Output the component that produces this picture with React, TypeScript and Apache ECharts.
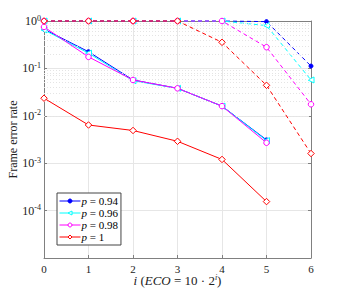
import React, { useEffect, useRef } from "react";
import * as echarts from "echarts";

const xSolid = [0, 1, 2, 3, 4, 5];
const xDashed = [0, 1, 2, 3, 4, 5, 6];

const legendNames = ["p = 0.94", "p = 0.96", "p = 0.98", "p = 1"];
const colors = ["#0000ff", "#00ffff", "#ff00ff", "#ff0000"];

const solid094 = [0.67, 0.225, 0.057, 0.038, 0.016, 0.0031];
const solid096 = [0.65, 0.21, 0.055, 0.038, 0.016, 0.003];
const solid098 = [0.75, 0.175, 0.057, 0.038, 0.016, 0.0027];
const solid1 = [0.0235, 0.0064, 0.0049, 0.0029, 0.0012, 0.000155];

const dashed094 = [1, 1, 1, 1, 1, 0.97, 0.112];
const dashed096 = [1, 1, 1, 1, 1, 0.8, 0.057];
const dashed098 = [1, 1, 1, 1, 1, 0.28, 0.0175];
const dashed1 = [1, 1, 1, 1, 0.355, 0.044, 0.0016];

const yDecades = [-5, -4, -3, -2, -1, 0];
const minorMultipliers = [2, 3, 4, 5, 6, 7, 8, 9];

const FONT = "Liberation Serif";

export default function App() {
  const ref = useRef<HTMLDivElement>(null);
  useEffect(() => {
    if (!ref.current) return;
    const chart = echarts.init(ref.current, null, { renderer: "svg" });

    const solids = [solid094, solid096, solid098, solid1];
    const dasheds = [dashed094, dashed096, dashed098, dashed1];
    const symbols = ["circle", "triangle", "circle", "diamond"];
    const symbolSizes = [4, 6, 5.5, 6.5];
    const symbolRotates = [0, 90, 0, 0];
    const filled = [true, false, false, false];

    const minorLines: any[] = [];
    yDecades.slice(0, -1).forEach((d) => {
      minorMultipliers.forEach((m) => {
        minorLines.push({ yAxis: m * Math.pow(10, d) });
      });
    });

    const series: any[] = [];
    series.push({
      type: "line",
      name: "minor",
      data: [],
      silent: true,
      markLine: {
        silent: true,
        symbol: "none",
        label: { show: false },
        lineStyle: { color: "#e4e4e4", type: [1, 2], width: 1 },
        data: minorLines,
        animation: false,
      },
    });

    for (let k = 0; k < 4; k++) {
      const itemStyle = {
        color: filled[k] ? colors[k] : "#ffffff",
        borderColor: colors[k],
        borderWidth: 1,
      };
      series.push({
        type: "line",
        name: legendNames[k] + " dashed",
        data: xDashed.map((x, i) => [x, dasheds[k][i]]),
        symbol: symbols[k],
        symbolSize: symbolSizes[k],
        symbolRotate: symbolRotates[k],
        showAllSymbol: true,
        clip: false,
        lineStyle: { color: colors[k], width: 1, type: [4, 3] },
        itemStyle,
        z: 3 + k,
      });
      series.push({
        type: "line",
        name: legendNames[k],
        data: xSolid.map((x, i) => [x, solids[k][i]]),
        symbol: symbols[k],
        symbolSize: symbolSizes[k],
        symbolRotate: symbolRotates[k],
        showAllSymbol: true,
        clip: false,
        lineStyle: { color: colors[k], width: 1 },
        itemStyle,
        z: 3 + k,
      });
    }

    const axisLineStyle = { color: "#808080", width: 1 };

    chart.setOption({
      animation: false,
      grid: { left: 44, right: 33, top: 21, bottom: 33, containLabel: false, outerBoundsMode: "none" },
      legend: {
        data: legendNames,
        orient: "vertical",
        left: 57,
        top: 193,
        itemWidth: 21,
        itemHeight: 5,
        itemGap: 0,
        padding: [2, 3, 2, 2],
        borderColor: "#444",
        borderWidth: 1,
        backgroundColor: "#ffffff",
        selectedMode: false,
        lineStyle: { width: 1 },
        itemStyle: { borderWidth: 1 },
        formatter: (name: string) => "{i|p}" + name.slice(1),
        textStyle: {
          fontFamily: FONT,
          fontSize: 11,
          lineHeight: 12,
          color: "#000",
          padding: [0, 0, 0, -4],
          rich: {
            i: { fontFamily: FONT, fontSize: 11, lineHeight: 12, fontStyle: "italic", color: "#000" },
          },
        },
      },
      xAxis: [
        {
          type: "value",
          min: 0,
          max: 6,
          interval: 1,
          axisLine: { show: true, onZero: false, lineStyle: axisLineStyle },
          axisTick: { show: true, inside: true, length: 3, lineStyle: axisLineStyle },
          axisLabel: { fontFamily: FONT, fontSize: 11, color: "#222", margin: 5 },
          splitLine: { show: true, lineStyle: { color: "#e6e6e6", width: 1 } },
          name: "{it|i} ({it|ECO} = 10 · 2{sup|i})",
          nameLocation: "middle",
          nameGap: 15,
          nameMoveOverlap: false,
          nameTextStyle: {
            fontFamily: FONT,
            fontSize: 13,
            lineHeight: 15,
            color: "#222",
            rich: {
              it: { fontFamily: FONT, fontSize: 13, lineHeight: 15, fontStyle: "italic", color: "#222" },
              sup: { fontFamily: FONT, fontSize: 8, lineHeight: 15, fontStyle: "italic", color: "#222", verticalAlign: "top" },
            },
          },
        },
        {
          type: "value",
          position: "top",
          min: 0,
          max: 6,
          interval: 1,
          axisLine: { show: true, onZero: false, lineStyle: axisLineStyle },
          axisTick: { show: true, inside: true, length: 3, lineStyle: axisLineStyle },
          axisLabel: { show: false },
          splitLine: { show: false },
        },
      ],
      yAxis: [
        {
          type: "log",
          logBase: 10,
          min: 1e-5,
          max: 1,
          axisLine: { show: true, onZero: false, lineStyle: axisLineStyle },
          axisTick: { show: true, inside: true, length: 3, lineStyle: axisLineStyle },
          splitLine: { show: true, lineStyle: { color: "#e6e6e6", width: 1 } },
          axisLabel: {
            margin: 3,
            formatter: (v: number) => {
              const e = Math.round(Math.log10(v));
              if (e === -5) return "";
              return "{b|10}{s|" + (e === 0 ? "0" : "-" + -e) + "}";
            },
            rich: {
              b: { fontFamily: FONT, fontSize: 12, color: "#222", lineHeight: 14 },
              s: { fontFamily: FONT, fontSize: 8, color: "#222", verticalAlign: "top", lineHeight: 14 },
            },
          },
          name: "Frame error rate",
          nameLocation: "middle",
          nameGap: 25,
          nameRotate: 90,
          nameMoveOverlap: false,
          nameTextStyle: { fontFamily: FONT, fontSize: 12, color: "#222" },
        },
        {
          type: "log",
          logBase: 10,
          position: "right",
          min: 1e-5,
          max: 1,
          axisLine: { show: true, onZero: false, lineStyle: axisLineStyle },
          axisTick: { show: true, inside: true, length: 3, lineStyle: axisLineStyle },
          axisLabel: { show: false },
          splitLine: { show: false },
        },
      ],
      series,
    });
    return () => chart.dispose();
  }, []);
  return <div ref={ref} style={{ width: 344, height: 291, position: "absolute", left: 0, top: 0 }} />;
}
